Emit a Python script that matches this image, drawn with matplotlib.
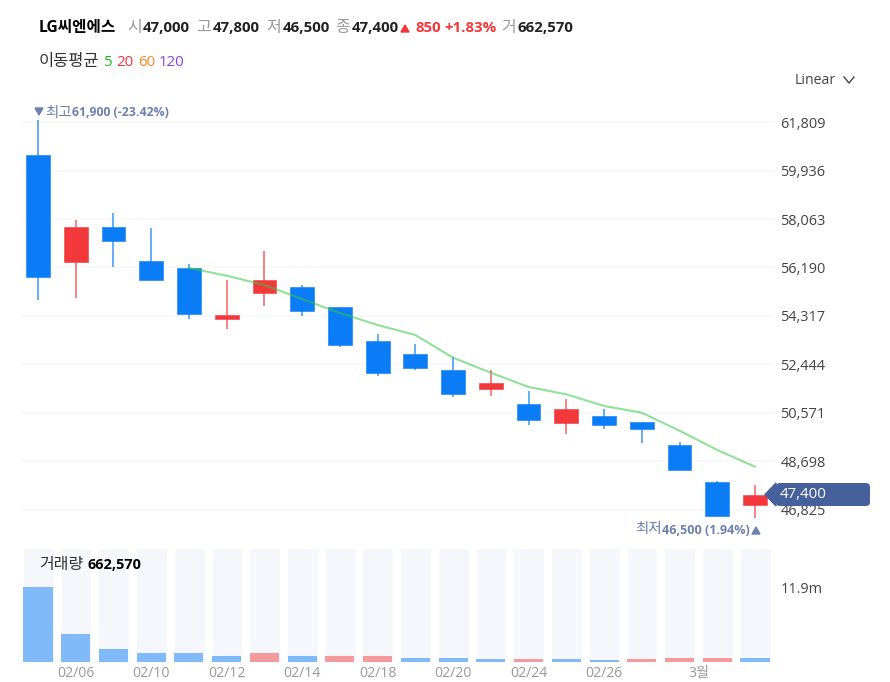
import matplotlib
matplotlib.use('Agg')
import matplotlib.pyplot as plt
import numpy as np
from matplotlib.patches import Polygon as mplPolygon, FancyBboxPatch

plt.rcParams['font.family'] = ['Open Sans', 'Noto Sans CJK KR', 'DejaVu Sans']

W, H = 890, 682
BLUE = '#0a7cf5'
RED = '#f2383a'
VOL_BLUE = '#80baf9'
VOL_RED = '#f49a9c'
SLATE = '#6d80b0'
PX = 72 / 100  # points per pixel at dpi 100

# candles
opens = [60554, 56402, 57754, 56441, 56170, 54201, 55224, 55418, 54653, 53339,
         52861, 52231, 51509, 50930, 50196, 50443, 50235, 49335, 47894, 47000]
closes = [55823, 57754, 57213, 55707, 54413, 54374, 55707, 54491, 53197, 52127,
          52320, 51304, 51741, 50288, 50725, 50107, 49953, 48358, 46582, 47400]
highs = [61900, 58024, 58314, 57715, 56325, 55707, 56827, 55514, 54653, 53610,
         53224, 52722, 52220, 51408, 51123, 50714, 50235, 49440, 47950, 47800]
lows = [54935, 55012, 56209, 55707, 54201, 53815, 54722, 54317, 53120, 51999,
        52220, 51200, 51216, 50107, 49760, 49953, 49412, 48358, 46582, 46500]

# 5 day average starts at the fifth candle
ma5 = [56170, 55873, 55514, 54973, 54433, 53969, 53583, 52706, 52127, 51575,
       51293, 50841, 50582, 49887, 49142, 48497]

volumes = [11900000, 4490000, 2110000, 1480000, 1480000, 900000, 1480000, 900000,
           900000, 900000, 680000, 680000, 520000, 520000, 520000, 320000,
           480000, 680000, 680000, 662570]
vol_up = [0, 0, 0, 0, 0, 0, 1, 0, 1, 1, 0, 0, 0, 1, 0, 0, 1, 1, 1, 0]

price_ticks = [61809, 59936, 58063, 56190, 54317, 52444, 50571, 48698, 46825]
date_pos = [1, 3, 5, 7, 9, 11, 13, 15, 17.5]
date_labels = ['02/06', '02/10', '02/12', '02/14', '02/18', '02/20', '02/24', '02/26', '3월']

x = np.arange(len(opens))


def px_axes(fig, left, top, right, bottom):
    return fig.add_axes([left / W, 1 - bottom / H, (right - left) / W, (bottom - top) / H])


fig = plt.figure(figsize=(W / 100, H / 100), dpi=100, facecolor='white')

# price panel
ax = px_axes(fig, 21, 100, 775, 530)
ax.set_xlim(-0.45, 19.53)
ax.set_ylim(46052, 62659)
for side in ax.spines.values():
    side.set_visible(False)
ax.set_yticks(price_ticks)
ax.set_yticklabels([f'{t:,}' for t in price_ticks])
ax.yaxis.tick_right()
ax.tick_params(axis='y', length=0, pad=4, labelsize=14.5 * PX, labelcolor='#444444')
ax.set_xticks([])
ax.grid(True, axis='y', color='#f8f9fa', linewidth=1.5)
ax.set_axisbelow(True)

colors = [RED if c > o else BLUE for o, c in zip(opens, closes)]
ax.vlines(x, lows, highs, colors=colors, linewidth=1.1, alpha=0.8, zorder=2)
bottoms = np.minimum(opens, closes)
heights = np.abs(np.array(opens) - np.array(closes))
ax.bar(x, heights, bottom=bottoms, width=0.63, color=colors, edgecolor=colors,
       linewidth=0.4, zorder=3)
ax.plot(x[4:], ma5, color='#35c945', linewidth=1.5, alpha=0.55, zorder=4)

# volume panel
vax = px_axes(fig, 21, 549, 775, 662)
vax.set_xlim(-0.45, 19.53)
vax.set_ylim(0, 17930000)
for side in vax.spines.values():
    side.set_visible(False)
vax.bar(x + 0.02, 17930000, width=0.79, color='#f6f7fc', zorder=1)
vax.bar(x, volumes, width=0.77, color=[VOL_RED if u else VOL_BLUE for u in vol_up], zorder=2)
vax.set_yticks([11900000])
vax.set_yticklabels(['11.9m'])
vax.yaxis.tick_right()
vax.tick_params(axis='y', length=0, pad=4, labelsize=14.5 * PX, labelcolor='#444444')
vax.set_xticks(date_pos)
vax.set_xticklabels(date_labels)
vax.tick_params(axis='x', length=0, pad=3, labelsize=14 * PX, labelcolor='#999999')

# overlay in pixel coordinates for the header, tag and notes
ov = fig.add_axes([0, 0, 1, 1], zorder=10)
ov.set_xlim(0, W)
ov.set_ylim(H, 0)
ov.axis('off')
ov.patch.set_alpha(0)


def label(px, py, s, color='#222222', size=14.5, weight='normal', ha='left'):
    ov.text(px, py, s, color=color, fontsize=size * PX, fontweight=weight, ha=ha, va='center')


label(39, 28, 'LG씨엔에스', color='#000000', weight='bold', size=15.6)
for px, key in [(127, '시'), (196, '고'), (266, '저'), (335, '종'), (501, '거')]:
    label(px, 28, key, color='#999999', size=16)
for px, val in [(143, '47,000'), (213, '47,800'), (283, '46,500'), (352, '47,400'), (518, '662,570')]:
    label(px, 28, val, color='#222222', weight='bold', size=15)
ov.add_patch(mplPolygon([(401, 32), (409, 32), (405, 25)], color='#f2383a'))
label(415, 28, '850', color='#f2383a', weight='bold', size=15)
label(444, 28, '+1.83%', color='#f2383a', weight='bold', size=15)

label(39, 62, '이동평균', color='#333333', size=16.5)
label(104, 62, '5', color='#22b822', size=15)
label(116, 62, '20', color='#f5333f', size=15)
label(138, 62, '60', color='#f58a1f', size=15)
label(159, 62, '120', color='#8b3ff5', size=15)

label(795, 81, 'Linear', color='#444444', size=14)
ov.plot([844, 849, 854], [77, 83, 77], color='#444444', linewidth=1)

# high and low notes
ov.add_patch(mplPolygon([(35, 108), (43, 108), (39, 115)], color=SLATE))
label(45, 113, '최고', color=SLATE, size=14.5)
label(72, 113, '61,900 (-23.42%)', color=SLATE, weight='bold', size=12.3)
label(635, 530, '최저', color=SLATE, size=14.5)
label(662, 530, '46,500 (1.94%)', color=SLATE, weight='bold', size=12.5)
ov.add_patch(mplPolygon([(752, 534), (760, 534), (756, 527)], color=SLATE))

# current price tag
ov.add_patch(FancyBboxPatch((776, 483), 94, 23, boxstyle='round,pad=0,rounding_size=4',
                            facecolor='#46609c', edgecolor='none'))
ov.add_patch(mplPolygon([(765, 494.5), (776, 483), (776, 506)], color='#46609c'))
label(780, 495, '47,400', color='white', size=15)

label(39, 565, '거래량', color='#333333', size=16)
label(87, 565, '662,570', color='#000000', weight='bold', size=14.5)

plt.savefig('out.png', dpi=100)
plt.close()
